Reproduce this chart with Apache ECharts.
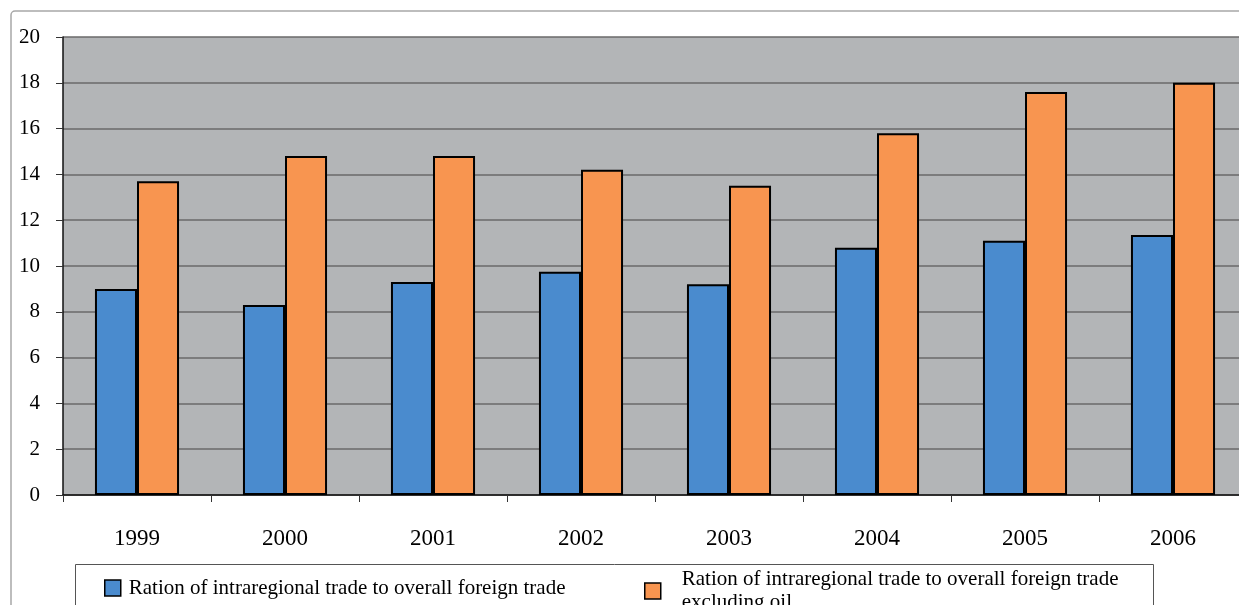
<!DOCTYPE html>
<html>
<head>
<meta charset="utf-8">
<script src="https://cdn.jsdelivr.net/npm/echarts@6/dist/echarts.min.js"></script>
<style>
html,body{margin:0;padding:0;background:#fff;}
#chart{width:1239px;height:605px;}
</style>
</head>
<body>
<div id="chart"></div>
<script>
const categories = ['1999','2000','2001','2002','2003','2004','2005','2006'];
const seriesNames = [
  'Ration of intraregional trade to overall foreign trade',
  'Ration of intraregional trade to overall foreign trade excluding oil'
];
const ratioTotal = [9.0, 8.3, 9.3, 9.75, 9.2, 10.8, 11.1, 11.35];
const ratioExOil = [13.7, 14.8, 14.8, 14.2, 13.5, 15.8, 17.6, 18.0];
const yTicks = { min: 0, max: 20, interval: 2 };

const FONT = '"Liberation Serif", "DejaVu Serif", serif';
const chart = echarts.init(document.getElementById('chart'), null, {renderer: 'canvas'});
chart.setOption({
  animation: false,
  backgroundColor: '#ffffff',
  graphic: [
    { type: 'rect', z: -10, shape: { x: 11, y: 11, width: 1300, height: 700, r: 4 },
      style: { fill: '#ffffff', stroke: '#a8a8a8', lineWidth: 1.5 } },
    { type: 'rect', z: 1, shape: { x: 75.5, y: 564.5, width: 1078, height: 100 },
      style: { fill: '#ffffff', stroke: '#555555', lineWidth: 1 } }
  ],
  grid: {
    left: 63, width: 1184, top: 37, height: 458,
    outerBoundsMode: 'none', containLabel: false,
    show: true, backgroundColor: '#b3b5b7', borderWidth: 0
  },
  legend: [
    {
      data: [seriesNames[0]], left: 104, top: 576, padding: 0, z: 5,
      itemWidth: 16, itemHeight: 16, itemGap: 8, icon: 'rect',
      itemStyle: { borderColor: '#000', borderWidth: 1.5 },
      textStyle: { fontFamily: FONT, fontSize: 21, color: '#000', lineHeight: 24, padding: [0,0,0,3] }
    },
    {
      data: [seriesNames[1]], left: 644, top: 568, padding: 0, z: 5,
      itemWidth: 16, itemHeight: 16, itemGap: 8, icon: 'rect',
      itemStyle: { borderColor: '#000', borderWidth: 1.5 },
      formatter: function (n) { return n.replace(' excluding oil', '\nexcluding oil'); },
      textStyle: { fontFamily: FONT, fontSize: 21, color: '#000', lineHeight: 23, padding: [0,0,0,16] }
    }
  ],
  xAxis: {
    type: 'category', data: categories,
    axisLine: { show: true, lineStyle: { color: '#111', width: 1.5 } },
    axisTick: { show: true, length: 7, alignWithLabel: false, lineStyle: { color: '#333' } },
    axisLabel: { fontFamily: FONT, fontSize: 23, color: '#000', margin: 32 },
    splitLine: { show: false }
  },
  yAxis: {
    type: 'value', min: yTicks.min, max: yTicks.max, interval: yTicks.interval,
    axisLine: { show: true, lineStyle: { color: '#111', width: 1.5 } },
    axisTick: { show: true, length: 7, lineStyle: { color: '#333' } },
    axisLabel: { fontFamily: FONT, fontSize: 21, color: '#000', margin: 23 },
    splitLine: { show: true, lineStyle: { color: '#6a6a6a', width: 1.5 } }
  },
  series: [
    {
      name: seriesNames[0], type: 'bar', data: ratioTotal,
      barWidth: '28.4%', barGap: '0%',
      itemStyle: { color: '#4a8bce', borderColor: '#000', borderWidth: 2 }
    },
    {
      name: seriesNames[1], type: 'bar', data: ratioExOil,
      barWidth: '28.4%', barGap: '0%',
      itemStyle: { color: '#f89550', borderColor: '#000', borderWidth: 2 }
    }
  ]
});
</script>
</body>
</html>
